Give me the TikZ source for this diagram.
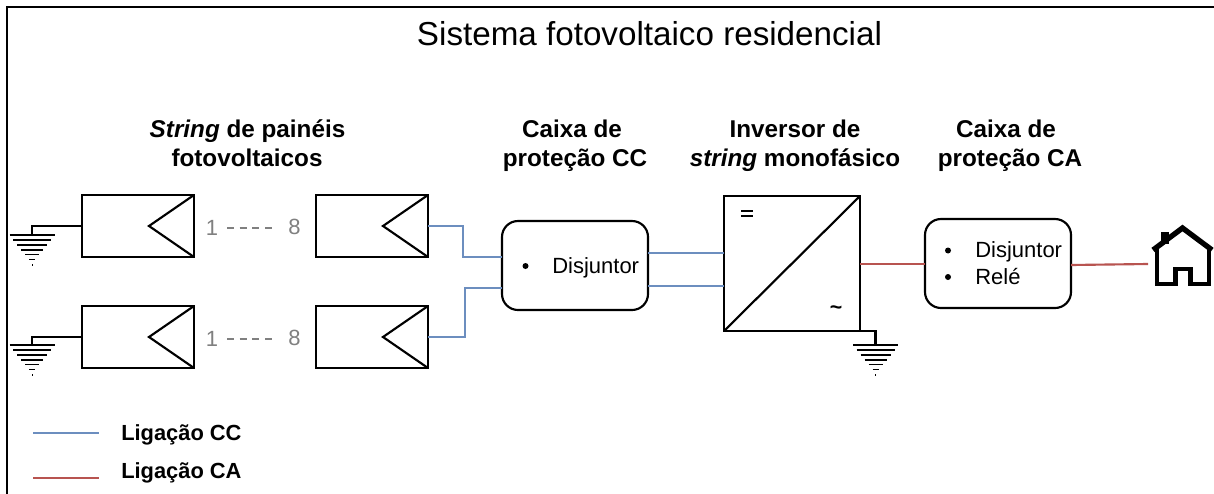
\documentclass[tikz,border=0pt]{standalone}
\usepackage{fontspec}
\usetikzlibrary{calc}
\setmainfont{Liberation Sans}
\definecolor{bluec}{HTML}{6C8EBF}
\definecolor{redc}{HTML}{B85450}
\definecolor{greyc}{HTML}{808080}
\newcommand{\gndsym}[3]{%
  \foreach \i/\w in {0/22.5,1/19,2/15,3/11,4/7,5/3}{
    \draw[line width=1.2pt] (#1-\w,#2+\i*#3) -- (#1+\w,#2+\i*#3);}
  \draw[line width=0.45pt] (#1,#2+6*#3) -- (#1,#2+6*#3+1.5);}
\tikzset{
  x=0.75pt,y=-0.75pt,
  wire/.style={line width=1.6pt,black},
  panel/.style={draw,line width=1.6pt,minimum width=84pt,minimum height=46.5pt,inner sep=0pt,outer sep=0pt,anchor=north west},
  tri/.style={line width=1.6pt,line join=miter},
  dc/.style={line width=1.6pt,bluec},
  ac/.style={line width=1.6pt,redc},
  rbox/.style={draw,line width=1.6pt,rounded corners=12pt,inner sep=0pt,outer sep=0pt,anchor=north west},
  head/.style={font=\fontsize{18.2pt}{22pt}\selectfont\bfseries,anchor=base,inner sep=0pt,text=black},
  body/.style={font=\fontsize{16.5pt}{20pt}\selectfont,anchor=base west,inner sep=0pt},
  num/.style={font=\fontsize{16.5pt}{20pt}\selectfont,text=greyc,inner sep=0pt,anchor=center},
  legend/.style={font=\fontsize{16.4pt}{20pt}\selectfont\bfseries,anchor=base west,inner sep=0pt},
  dotm/.style={circle,fill=black,inner sep=0pt,minimum size=4.5pt},
  gdash/.style={greyc,line width=1.2pt,dash pattern=on 5.2pt off 4.3pt},
}
\begin{document}
\begin{tikzpicture}
\useasboundingbox (0,0) rectangle (1214,493);
\fill[white] (0,0) rectangle (1214,493);
\draw[line width=1.5pt] (7,494) -- (7,6.5) -- (1214,6.5);
\node[font=\fontsize{24.9pt}{28pt}\selectfont,inner sep=0pt,anchor=base] (title) at (649.5,45) {Sistema fotovoltaico residencial};
\node[head] (h1a) at (247.5,137) {\textit{String} de painéis};
\node[head] (h1b) at (247,166) {fotovoltaicos};
\node[head] (h2a) at (572,137) {Caixa de};
\node[head] (h2b) at (575,166) {proteção CC};
\node[head] (h3a) at (795,137) {Inversor de};
\node[head] (h3b) at (795,166) {\textit{string} monofásico};
\node[head] (h4a) at (1006,137) {Caixa de};
\node[head] (h4b) at (1010,166) {proteção CA};
% panels
\foreach \n/\px/\py in {a/82/195,b/316/195,c/82/306,d/316/306}{
  \node[panel] (\n) at (\px,\py) {};
  \draw[tri] (\n.north east) -- (\px+67,\py+31) -- (\n.south east);
}
\node[num] (n1) at (212,228) {1};
\node[num] (n2) at (294.5,227) {8};
\node[num] (n3) at (212,339) {1};
\node[num] (n4) at (294.5,338) {8};
\coordinate (da1) at (227,228);
\coordinate (db1) at (274,228);
\coordinate (da2) at (227,339);
\coordinate (db2) at (274,339);
\draw[gdash] (da1) -- (db1);
\draw[gdash] (da2) -- (db2);
% grounds
\coordinate (g1) at (32,235);
\coordinate (g2) at (32,345);
\coordinate (g3) at (875.5,345);
\draw[wire] (a.west) -| (g1);
\draw[wire] (c.west) -| (g2);
\gndsym{32}{235}{4.9}
\gndsym{32}{345}{4.9}
% boxes
\node[rbox,minimum width=109.5pt,minimum height=66.75pt] (cc) at (502,221) {};
\node[draw,line width=1.6pt,minimum width=102pt,minimum height=101.25pt,inner sep=0pt,outer sep=0pt,anchor=north west] (inv) at (724,196) {};
\node[rbox,minimum width=109.5pt,minimum height=66.75pt] (ca) at (925,219) {};
\draw[line width=1.6pt] (inv.south west) -- (inv.north east);
\fill (741,209.5) rectangle (753,211.5);
\fill (741,214.5) rectangle (753,216.5);
\node[font=\fontsize{16pt}{18pt}\selectfont\bfseries,inner sep=0pt] (tl) at (836,310) {\char"7E};
\draw[wire] (inv.south east) -| (g3);
\gndsym{875.5}{345}{4.9}
% box text
\node[dotm] (d1) at (525.5,266) {};
\node[body] (t1) at (552,273) {Disjuntor};
\node[dotm] (d2) at (948,250.5) {};
\node[dotm] (d3) at (948,277) {};
\node[body] (t2) at (975,257.5) {Disjuntor};
\node[body] (t3) at (975,284) {Relé};
% connectors
\coordinate (b1) at (463,257);
\coordinate (b2) at (465,288);
\coordinate (cc1) at (502,257);
\coordinate (cc2) at (502,288);
\coordinate (cco1) at (648,253);
\coordinate (cco2) at (648,286);
\coordinate (inv1) at (724,253);
\coordinate (inv2) at (724,286);
\draw[dc] (b.east) -| (b1) -- (cc1);
\draw[dc] (d.east) -| (b2) -- (cc2);
\draw[dc] (cco1) -- (inv1);
\draw[dc] (cco2) -- (inv2);
\coordinate (r1) at (860,264);
\coordinate (r2) at (925,264);
\coordinate (r3) at (1071,265);
\coordinate (r4) at (1148,264);
\draw[ac] (r1) -- (r2);
\draw[ac] (r3) -- (r4);
% house
\draw[line width=4pt,line join=miter,line cap=butt]
  (1153,250) -- (1182.5,228) -- (1212,250);
\fill (1161,232) rectangle (1169,244);
\draw[line width=3.6pt,line join=miter]
  (1157,246) -- (1157,284) -- (1175.5,284) -- (1175.5,269) -- (1190.5,269) -- (1190.5,284) -- (1209,284) -- (1209,246);
% legend
\coordinate (l1a) at (33,433);
\coordinate (l1b) at (99,433);
\coordinate (l2a) at (33,478);
\coordinate (l2b) at (99,478);
\draw[dc] (l1a) -- (l1b);
\draw[ac] (l2a) -- (l2b);
\node[legend] (lt1) at (121,440) {Ligação CC};
\node[legend] (lt2) at (121,478) {Ligação CA};
\end{tikzpicture}
\end{document}
